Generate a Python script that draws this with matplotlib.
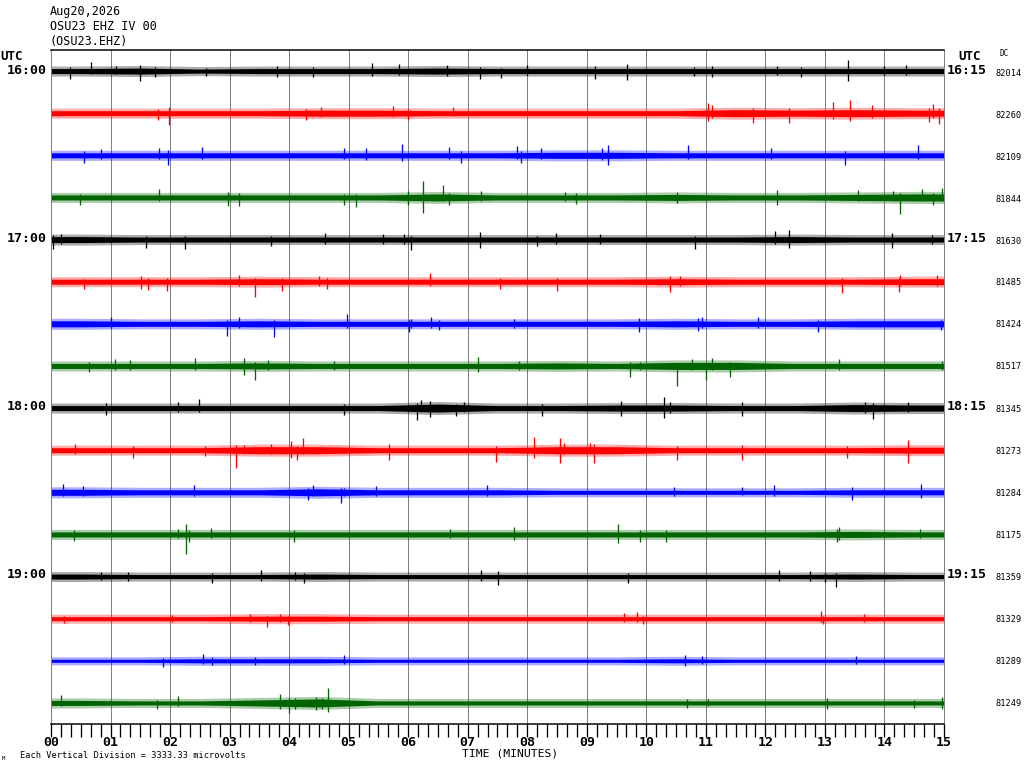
import matplotlib
matplotlib.use("Agg")
import matplotlib.pyplot as plt
from matplotlib.ticker import MultipleLocator
import numpy as np

# ---------------- data ----------------
station_date = "Aug20,2026"
station_line = "OSU23 EHZ IV 00"
station_code = "(OSU23.EHZ)"
scale_note = "Each Vertical Division = 3333.33 microvolts"

minute_ticks = list(range(16))
minute_labels = ["%02d" % m for m in minute_ticks]

left_times = ["16:00", "17:00", "18:00", "19:00"]
right_times = ["16:15", "17:15", "18:15", "19:15"]

dc_values = [82014, 82260, 82109, 81844, 81630, 81485, 81424, 81517,
             81345, 81273, 81284, 81175, 81359, 81329, 81289, 81249]

trace_colors = ["black", "#ff0000", "#0000ff", "#006400"] * 4

# per-minute half-width of the noise band (pixels of a 42-px division), one value per minute
env_1600 = [3, 3.5, 2.5, 3, 3, 3, 3.5, 3, 3, 3, 3, 3, 3, 3, 3]
env_1615 = [3, 3, 3, 3, 3.5, 3.5, 3, 3, 3, 3, 3, 4, 3.5, 4, 3.5]
env_1630 = [3, 3, 3, 3, 3, 3, 3, 3, 3.5, 3.5, 3, 3, 3, 3, 3]
env_1645 = [3, 3, 3, 3, 3, 3, 4, 3, 3, 3, 3.5, 3, 3, 3.5, 4]
env_1700 = [3.5, 3, 3, 3, 3, 3, 3, 3, 3, 3, 3, 3, 3.5, 3, 3]
env_1715 = [3, 3, 3, 3.5, 3, 3, 3, 3, 3, 3, 3.5, 3, 3, 3, 3.5]
env_1730 = [3.5, 3, 3, 3.5, 3, 3, 3, 3, 3, 3, 3.5, 3, 3, 3.5, 3.5]
env_1745 = [3, 3, 3, 3.5, 3, 3, 3, 3, 3.5, 3, 4, 4, 3, 3, 3]
env_1800 = [3, 3, 3, 3, 3, 3, 4.5, 3, 3, 3.5, 3.5, 3, 3, 4, 3.5]
env_1815 = [3, 3, 3, 4, 4, 3, 3, 3, 4, 4, 3, 3, 3, 3, 3.5]
env_1830 = [3.5, 3, 3, 3, 4, 3, 3, 3, 2.5, 2.5, 2.5, 2.5, 2.5, 3, 3]
env_1845 = [3, 3, 3, 3, 3, 3, 3, 3, 3, 3, 3, 3, 3, 3.5, 3]
env_1900 = [3, 2.5, 2.5, 2.5, 3, 2.5, 2.5, 2.5, 2.5, 2.5, 2.5, 2.5, 2.5, 3, 2.5]
env_1915 = [2.5, 2.5, 2.5, 3, 3, 2.5, 2.5, 2.5, 2.5, 2.5, 2.5, 2.5, 2.5, 2.5, 2.5]
env_1930 = [2, 2, 2.5, 2.5, 2.5, 2, 2, 2, 2, 2, 2.5, 2, 2, 2, 2]
env_1945 = [3, 2.5, 2.5, 3.5, 4.5, 2.5, 2.5, 2.5, 2.5, 2.5, 2.5, 2.5, 2.5, 2.5, 2.5]

# notable excursions: (minute, up px, down px)
spikes_1600 = [(0.32, 4, 8), (0.68, 9, 3), (1.1, 5, 3), (1.5, 6, 10), (1.75, 4, 6),
               (2.6, 3, 5), (3.8, 5, 6), (4.4, 4, 6), (5.4, 8, 5), (5.85, 7, 4),
               (6.66, 6, 5), (7.2, 4, 8), (7.56, 3, 7), (8.0, 6, 4), (9.13, 5, 8),
               (9.68, 7, 9), (10.8, 4, 5), (11.1, 5, 6), (12.2, 5, 4), (12.6, 4, 6),
               (13.38, 11, 10), (14.0, 5, 4), (14.37, 6, 4)]
spikes_1615 = [(1.8, 4, 7), (1.99, 6, 12), (4.28, 4, 7), (4.54, 6, 4), (5.74, 7, 4),
               (6.0, 4, 7), (6.75, 6, 3), (11.04, 10, 8), (11.1, 8, 5), (11.79, 5, 10),
               (12.39, 5, 10), (13.14, 11, 6), (13.42, 13, 8), (13.79, 8, 5),
               (14.74, 5, 9), (14.81, 9, 5), (14.92, 5, 11)]
spikes_1630 = [(0.55, 4, 8), (0.84, 6, 4), (1.82, 7, 4), (1.97, 5, 10), (2.53, 8, 4),
               (4.93, 7, 4), (5.29, 7, 5), (5.89, 11, 6), (6.69, 8, 4), (6.89, 4, 8),
               (7.82, 9, 4), (7.9, 4, 8), (8.23, 7, 4), (9.25, 7, 5), (9.36, 10, 10),
               (10.7, 10, 4), (12.1, 7, 4), (13.33, 4, 10), (14.57, 10, 4)]
spikes_1645 = [(0.49, 3, 8), (1.82, 8, 4), (2.98, 5, 9), (3.15, 4, 9), (4.92, 3, 8),
               (5.12, 3, 10), (6.0, 6, 8), (6.25, 16, 16), (6.58, 12, 4), (6.69, 4, 8),
               (7.22, 6, 4), (8.64, 5, 4), (8.82, 4, 7), (10.51, 5, 6), (12.19, 7, 8),
               (13.55, 7, 4), (14.15, 6, 4), (14.26, 4, 17), (14.63, 8, 4),
               (14.81, 4, 8), (14.96, 9, 4)]
spikes_1700 = [(0.03, 5, 9), (0.17, 6, 4), (1.6, 4, 8), (2.25, 4, 9), (3.7, 4, 6),
               (4.6, 7, 4), (5.57, 6, 4), (5.93, 6, 4), (6.04, 4, 10), (7.2, 8, 8),
               (8.16, 4, 6), (8.48, 7, 4), (9.23, 6, 4), (10.82, 4, 9), (12.16, 9, 4),
               (12.4, 10, 8), (14.12, 7, 8), (14.8, 5, 4)]
spikes_1715 = [(0.55, 3, 7), (1.51, 6, 7), (1.63, 4, 8), (1.95, 4, 9), (3.16, 7, 4),
               (3.42, 4, 15), (3.88, 4, 9), (4.5, 6, 4), (4.63, 4, 7), (6.37, 9, 4),
               (7.55, 4, 7), (8.5, 4, 9), (10.4, 6, 10), (10.57, 6, 4), (13.28, 4, 11),
               (14.24, 4, 10), (14.26, 7, 4), (14.88, 7, 4)]
spikes_1730 = [(1.0, 7, 4), (2.96, 4, 12), (3.16, 7, 4), (3.75, 4, 13), (4.97, 10, 4),
               (6.02, 4, 8), (6.05, 5, 4), (6.38, 7, 4), (6.52, 4, 6), (7.78, 5, 4),
               (9.87, 6, 8), (10.86, 6, 7), (10.93, 7, 4), (11.87, 7, 4),
               (12.89, 4, 8), (14.95, 4, 6)]
spikes_1745 = [(0.64, 4, 6), (1.07, 7, 4), (1.33, 6, 4), (2.42, 8, 4), (3.25, 8, 9),
               (3.42, 4, 14), (3.64, 6, 4), (4.76, 5, 4), (7.18, 9, 6), (7.86, 5, 4),
               (9.73, 4, 11), (9.9, 4, 4), (10.51, 3, 20), (10.76, 7, 4), (11.0, 4, 14),
               (11.11, 8, 4), (11.41, 4, 11), (13.23, 7, 4), (14.96, 5, 4)]
spikes_1800 = [(0.92, 5, 7), (2.13, 6, 4), (2.48, 9, 4), (4.93, 4, 7), (6.15, 5, 12),
               (6.22, 8, 4), (6.37, 7, 9), (6.8, 4, 8), (6.94, 6, 4), (8.24, 4, 8),
               (9.58, 7, 8), (10.29, 11, 10), (10.4, 6, 5), (11.6, 6, 8), (13.68, 6, 5),
               (13.8, 5, 11), (14.4, 6, 4)]
spikes_1815 = [(0.4, 6, 4), (1.37, 4, 8), (2.59, 4, 6), (3.11, 5, 18), (3.24, 5, 4),
               (3.7, 6, 4), (4.03, 9, 8), (4.13, 4, 10), (4.23, 12, 4), (5.68, 6, 10),
               (7.47, 4, 12), (8.12, 13, 8), (8.55, 12, 13), (8.62, 7, 4), (9.05, 7, 4),
               (9.12, 6, 13), (10.51, 4, 10), (11.6, 5, 10), (13.37, 4, 8),
               (14.39, 10, 13)]
spikes_1830 = [(0.2, 8, 4), (0.53, 6, 4), (2.41, 7, 4), (4.32, 4, 8), (4.4, 7, 4),
               (4.87, 4, 11), (4.93, 4, 4), (5.46, 6, 4), (7.32, 7, 4), (10.47, 5, 4),
               (11.6, 5, 3), (12.15, 7, 4), (13.45, 5, 8), (14.61, 8, 6)]
spikes_1845 = [(0.39, 4, 7), (2.13, 5, 4), (2.26, 10, 20), (2.31, 4, 8), (2.68, 6, 4),
               (4.09, 4, 8), (6.7, 5, 4), (7.77, 7, 6), (9.53, 10, 9), (9.9, 4, 8),
               (10.33, 4, 8), (13.2, 5, 8), (13.24, 7, 6), (14.6, 5, 4)]
spikes_1900 = [(0.84, 5, 3), (1.3, 5, 4), (2.7, 4, 6), (3.53, 7, 4), (4.25, 4, 6),
               (4.1, 5, 3), (7.22, 7, 4), (7.5, 6, 8), (9.69, 4, 6), (12.23, 7, 4),
               (12.75, 6, 4), (13.19, 4, 10), (13.0, 4, 5)]
spikes_1915 = [(0.22, 3, 4), (2.04, 4, 3), (3.34, 5, 3), (3.63, 3, 8), (3.84, 5, 3),
               (3.98, 3, 6), (9.62, 6, 3), (9.84, 7, 3), (9.95, 3, 5), (12.94, 8, 3),
               (12.97, 3, 5), (13.66, 5, 3)]
spikes_1930 = [(1.88, 3, 6), (2.56, 7, 3), (2.7, 4, 4), (3.42, 4, 4), (4.92, 6, 3),
               (10.65, 6, 5), (10.93, 5, 3), (13.53, 5, 3)]
spikes_1945 = [(0.16, 8, 3), (1.78, 3, 6), (2.13, 7, 3), (3.85, 9, 6), (3.99, 5, 10),
               (4.1, 5, 6), (4.45, 6, 7), (4.55, 5, 6), (4.66, 15, 9), (10.68, 4, 5),
               (11.03, 4, 3), (13.03, 5, 6), (14.49, 3, 5), (14.96, 6, 6)]

envelopes = [env_1600, env_1615, env_1630, env_1645, env_1700, env_1715, env_1730, env_1745,
             env_1800, env_1815, env_1830, env_1845, env_1900, env_1915, env_1930, env_1945]
spike_sets = [spikes_1600, spikes_1615, spikes_1630, spikes_1645, spikes_1700, spikes_1715,
              spikes_1730, spikes_1745, spikes_1800, spikes_1815, spikes_1830, spikes_1845,
              spikes_1900, spikes_1915, spikes_1930, spikes_1945]

# ---------------- drawing ----------------
PX_PER_DIV = 42.0
W, H = 1024, 768
fig = plt.figure(figsize=(W / 100, H / 100), dpi=100)
L, R, T, B = 51, 944, 50, 724
ax = fig.add_axes([L / W, 1 - B / H, (R - L) / W, (B - T) / H])
ax.set_xlim(0, 15)
ax.set_ylim(-15.5, 0.5)

px_lw = 0.72  # one pixel in points

for m in minute_ticks:
    ax.axvline(m, color="#808080", lw=px_lw, zorder=1)

# envelope values sit at the middle of each minute; the band is held flat to the edges
mid_x = [0.0] + [m + 0.5 for m in range(15)] + [15.0]
for i in range(16):
    y0 = -i
    col = trace_colors[i]
    env_px = np.array([envelopes[i][0]] + envelopes[i] + [envelopes[i][-1]])
    core = (env_px - 0.5) / PX_PER_DIV
    fringe = (env_px + 2.0) / PX_PER_DIV
    ax.fill_between(mid_x, y0 - fringe, y0 + fringe, color=col, alpha=0.33, lw=0, zorder=2)
    ax.fill_between(mid_x, y0 - core, y0 + core, color=col, lw=0, zorder=2)
    for (t, up, dn) in spike_sets[i]:
        ax.vlines(t, y0 - dn / PX_PER_DIV, y0 + up / PX_PER_DIV, color=col,
                  lw=px_lw * 1.3, zorder=3)

for side in ["left", "right"]:
    ax.spines[side].set_color("#808080")
    ax.spines[side].set_linewidth(px_lw)
for side in ["top", "bottom"]:
    ax.spines[side].set_color("black")
    ax.spines[side].set_linewidth(px_lw * 1.5)

mono = "DejaVu Sans Mono"
ax.set_yticks([])
ax.xaxis.set_minor_locator(MultipleLocator(1 / 6))
ax.set_xticks(minute_ticks)
ax.set_xticklabels(minute_labels, fontfamily=mono, fontweight="bold", fontsize=9.5)
ax.tick_params(axis="x", which="both", direction="out", length=9, width=px_lw * 1.3,
               color="black", pad=0)


def fx(x):
    return x / W


def fy(y):
    return 1 - y / H


fig.text(fx(510), fy(753), "TIME (MINUTES)", fontfamily=mono, fontsize=8.2,
         va="center", ha="center")

fig.text(fx(50), fy(12), station_date, fontfamily=mono, fontsize=8.5, va="center", ha="left")
fig.text(fx(50), fy(27), station_line, fontfamily=mono, fontsize=8.5, va="center", ha="left")
fig.text(fx(50), fy(41), station_code, fontfamily=mono, fontsize=8.5, va="center", ha="left")

fig.text(fx(0), fy(57), "UTC", fontfamily=mono, fontweight="bold", fontsize=9, va="center", ha="left")
fig.text(fx(958), fy(57), "UTC", fontfamily=mono, fontweight="bold", fontsize=9, va="center", ha="left")
fig.text(fx(1000), fy(53), "DC", fontfamily=mono, fontsize=5.5, va="center", ha="left")

for k in range(4):
    yc = 71 + 42 * 4 * k
    fig.text(fx(47), fy(yc), left_times[k], fontfamily=mono, fontweight="bold",
             fontsize=9.5, va="center", ha="right")
    fig.text(fx(947), fy(yc), right_times[k], fontfamily=mono, fontweight="bold",
             fontsize=9.5, va="center", ha="left")

for i, dc in enumerate(dc_values):
    fig.text(fx(995), fy(71 + 42 * i + 2), str(dc), fontfamily=mono, fontsize=6.2,
             va="center", ha="left")

fig.text(fx(20), fy(755), scale_note, fontfamily=mono, fontsize=6.2, va="center", ha="left")
fig.text(fx(2), fy(758), "M", fontfamily=mono, fontsize=4, va="center", ha="left")

fig.savefig("out.png", dpi=100, facecolor="white")
